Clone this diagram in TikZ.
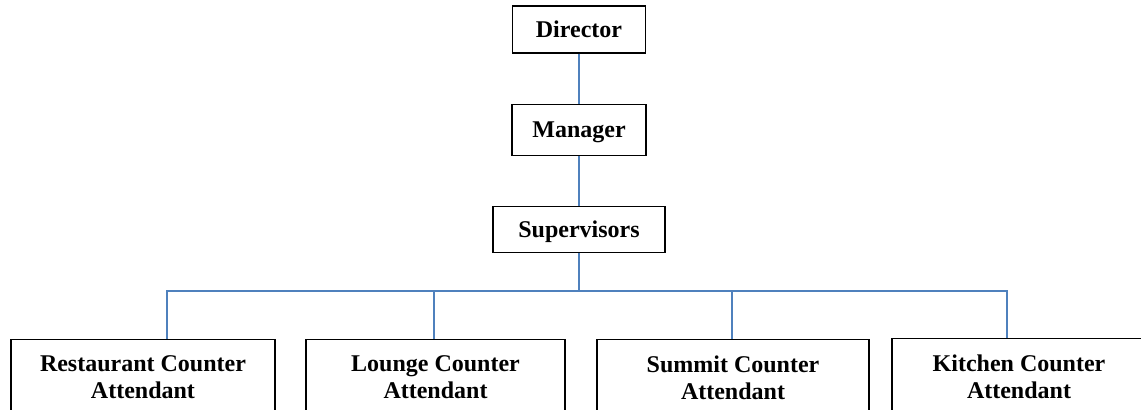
\documentclass[tikz,border=0pt]{standalone}
\usepackage{fontspec}
\setmainfont{Liberation Serif}
\usetikzlibrary{positioning}
\definecolor{linkBlue}{RGB}{79,129,189}

\begin{document}
\begin{tikzpicture}[
      x=0.5pt, y=-0.5pt,
      node distance=25pt,
      box/.style={rectangle, draw=black, line width=0.6pt, fill=white, inner sep=0pt,
        align=center, font=\fontsize{12}{13.5}\selectfont\bfseries},
      rankbox/.style={box, text depth=0pt},
      staffbox/.style={box, minimum height=38pt, anchor=north},
      link/.style={draw=linkBlue, line width=0.8pt}
    ]
    \clip (0,0) rectangle (1141,410);
    \node[rankbox, minimum width=66.5pt, minimum height=23.5pt] (dir) at (579,29.5) {Director};
    \node[rankbox, minimum width=67pt, minimum height=25.5pt, below=of dir] (man) {Manager};
    \node[rankbox, minimum width=86pt, minimum height=23pt, below=of man] (sup) {Supervisors};

    \node[staffbox, minimum width=132pt] (res) at (143,339) {Restaurant Counter\\Attendant};
    \node[staffbox, minimum width=129.5pt] (lou) at (435.5,339) {Lounge Counter\\Attendant};
    \node[staffbox, minimum width=136pt] (sum) at (733,339) {Summit Counter\\Attendant};
    \node[staffbox, minimum width=127pt] (kit) at (1019,338) {Kitchen Counter\\Attendant};

    \coordinate (fork) at (sup.south |- 0,291);
    \coordinate (dropA) at (167,291);
    \coordinate (dropB) at (434,291);
    \coordinate (dropC) at (732,291);
    \coordinate (dropD) at (1007,291);

    \draw[link] (dir.south) -- (man.north);
    \draw[link] (man.south) -- (sup.north);
    \draw[link] (sup.south) -- (fork);
    \draw[link] (dropA |- res.north) -- (dropA) -- (dropD) -- (dropD |- kit.north);
    \draw[link] (dropB) -- (dropB |- lou.north);
    \draw[link] (dropC) -- (dropC |- sum.north);
  \end{tikzpicture}
\end{document}
